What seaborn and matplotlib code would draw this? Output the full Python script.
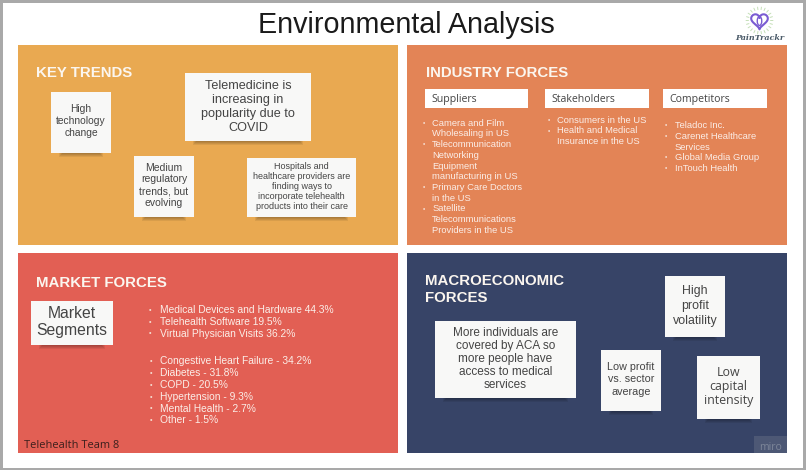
import numpy as np
import pandas as pd
import seaborn as sns
import matplotlib
matplotlib.use("Agg")
import matplotlib.pyplot as plt
from matplotlib.patches import Rectangle, Ellipse

TITLE = "Environmental Analysis"
PANEL_TITLES = ["KEY TRENDS", "INDUSTRY FORCES", "MARKET FORCES", "MACROECONOMIC\nFORCES"]
KEY_NOTES = ["High\ntechnology\nchange", "Telemedicine is\nincreasing in\npopularity due to\nCOVID",
             "Medium\nregulatory\ntrends, but\nevolving",
             "Hospitals and\nhealthcare providers are\nfinding ways to\nincorporate telehealth\nproducts into their care"]
INDUSTRY_HEADS = ["Suppliers", "Stakeholders", "Competitors"]
SUPPLIERS = ["Camera and Film\nWholesaling in US", "Telecommunication\nNetworking\nEquipment\nmanufacturing in US",
             "Primary Care Doctors\nin the US", "Satellite\nTelecommunications\nProviders in the US"]
STAKEHOLDERS = ["Consumers in the US", "Health and Medical\nInsurance in the US"]
COMPETITORS = ["Teladoc Inc.", "Carenet Healthcare\nServices", "Global Media Group", "InTouch Health"]
SEGMENT_NOTE = "Market\nSegments"
SEGMENTS = ["Medical Devices and Hardware 44.3%", "Telehealth Software 19.5%", "Virtual Physician Visits 36.2%"]
CONDITIONS = ["Congestive Heart Failure - 34.2%", "Diabetes - 31.8%", "COPD - 20.5%",
              "Hypertension - 9.3%", "Mental Health - 2.7%", "Other - 1.5%"]
MACRO_NOTES = ["More individuals are\ncovered by ACA so\nmore people have\naccess to medical\nservices",
               "Low profit\nvs. sector\naverage", "High\nprofit\nvolatility", "Low\ncapital\nintensity"]
TEAM = "Telehealth Team 8"
BRAND = "PainTrackr"
WATERMARK = "miro"

sns.set_theme(style="white")
plt.rcParams["font.family"] = ["Liberation Sans", "DejaVu Sans"]
fig = plt.figure(figsize=(8.06, 4.70), dpi=100)
ax = fig.add_axes([0, 0, 1, 1])
ax.set_xlim(0, 806)
ax.set_ylim(470, 0)
ax.axis("off")

DARK = "#444444"
OPEN = ["Open Sans", "DejaVu Sans"]


def px(s):
    return s * 0.72


def rect(x0, y0, x1, y1, color, z=1, alpha=1.0):
    ax.add_patch(Rectangle((x0, y0), x1 - x0, y1 - y0, fc=color, ec="none", zorder=z, alpha=alpha))


def line(x, y, s, size, color, ha="left", family=None, weight="normal"):
    ax.text(x, y + 0.36 * size, s, ha=ha, va="baseline", fontsize=px(size), color=color, zorder=5,
            family=family or ["Liberation Sans"], fontweight=weight)


def note(x0, y0, x1, y1, text, size, pitch, family=None):
    for i in range(4):
        rect(x0 + 8 + i, y1 - 1, x1 - 8 - i, y1 + 4 - i, "#000000", z=3, alpha=0.07)
    rect(x0, y0, x1, y1, "#f8f8f7", z=4)
    parts = text.split("\n")
    cy = (y0 + y1) / 2 - 2
    for i, p in enumerate(parts):
        line((x0 + x1) / 2, cy + (i - (len(parts) - 1) / 2) * pitch, p, size, DARK, ha="center", family=family)


def bullets(x_b, x_t, y0, items, size, step):
    n = 0
    for item in items:
        ax.text(x_b, y0 + n * step + 1, "\u2022", ha="center", va="center", fontsize=px(size * 0.7),
                color="#f5dcd0", zorder=5)
        for part in item.split("\n"):
            line(x_t, y0 + n * step, part, size, "#fbeee8")
            n += 1


# page frame
rect(0, 0, 806, 470, "#ffffff", z=0)
rect(0, 0, 806, 2.5, "#a9a9a9", z=6)
rect(0, 0, 2.5, 470, "#a9a9a9", z=6)
rect(0, 467.5, 806, 470, "#a9a9a9", z=6)
rect(802.5, 0, 806, 470, "#a9a9a9", z=6)

# panels
rect(18, 45, 398, 245, "#e9a951")
rect(407, 45, 787, 245, "#e38456")
rect(18, 253, 398, 453, "#e25f54")
rect(407, 253, 787, 453, "#374467")

line(406.5, 22.5, TITLE, 28.7, "#1a1a1a", ha="center")

hx = [36.5, 425.5, 36.5, 425.5, 425.5]
hy = [72, 72, 281.5, 280, 297]
for x, y, t in zip(hx, hy, "\n".join(PANEL_TITLES).split("\n")):
    line(x, y, t, 15, "#fbf6ef", weight="bold")

# key trends
note(51, 92, 111, 153, KEY_NOTES[0], 10.2, 11.7)
note(185, 73, 311, 141, KEY_NOTES[1], 12.6, 14)
note(134, 156, 194, 217, KEY_NOTES[2], 10.4, 11.7)
note(247, 158, 356, 217, KEY_NOTES[3], 9, 10)

# industry forces
for (x0, x1), t in zip([(425, 528), (545, 649), (663, 767)], INDUSTRY_HEADS):
    rect(x0, 89, x1, 108, "#ffffff", z=4)
    line(x0 + 6.5, 98, t, 10.5, DARK, family=OPEN)
bullets(424, 432.3, 122.3, SUPPLIERS, 9.4, 10.72)
bullets(549, 557, 119.3, STAKEHOLDERS, 9.4, 10.72)
bullets(666, 675, 124.7, COMPETITORS, 9.4, 10.72)

# market forces
note(31, 301, 113, 345, SEGMENT_NOTE, 15.7, 17.3)
bullets(150, 159.7, 309.3, SEGMENTS, 10.3, 11.85)
bullets(151, 160.3, 360.7, CONDITIONS, 10.3, 11.78)
line(24.5, 444, TEAM, 11, "#3a1f1c", family=OPEN)

# macroeconomic forces
note(435, 321, 576, 398, MACRO_NOTES[0], 11.7, 13)
note(601, 350, 661, 411, MACRO_NOTES[1], 10.8, 12.5)
note(665, 276, 725, 337, MACRO_NOTES[2], 12.4, 15)
note(697, 356, 760, 419, MACRO_NOTES[3], 12.4, 14, family=OPEN)

# watermark
rect(754, 436, 787, 453, "#4d5875", z=2)
line(771, 446, WATERMARK, 10.5, "#7d8699", ha="center", family=OPEN)

# logo
t = np.linspace(0, 2 * np.pi, 200)
cx, cy = 759.5, 20.5
hxs = cx + 0.52 * 16 * np.sin(t) ** 3
hys = cy - 0.52 * (13 * np.cos(t) - 5 * np.cos(2 * t) - 2 * np.cos(3 * t) - np.cos(4 * t))
sns.lineplot(x=hxs, y=hys, sort=False, estimator=None, color="#7a5cd2", lw=1.5, ax=ax, zorder=5)
ax.add_patch(Ellipse((cx, cy + 0.5), 4.5, 9, fc="none", ec="#7a5cd2", lw=1.0, zorder=5))
ang = np.linspace(0, 2 * np.pi, 22, endpoint=False)
ax.plot(np.c_[cx + 11 * np.cos(ang), cx + 13.5 * np.cos(ang), np.full(22, np.nan)].ravel(),
        np.c_[cy + 11 * np.sin(ang), cy + 13.5 * np.sin(ang), np.full(22, np.nan)].ravel(),
        color="#c5dfb8", lw=0.7, zorder=5)
ax.text(760, 38.5, BRAND, ha="center", va="center", fontsize=px(8), fontweight="bold", style="italic",
        color="#4a5a68", zorder=5, family=["DejaVu Serif"])

fig.savefig("out.png", dpi=100)
